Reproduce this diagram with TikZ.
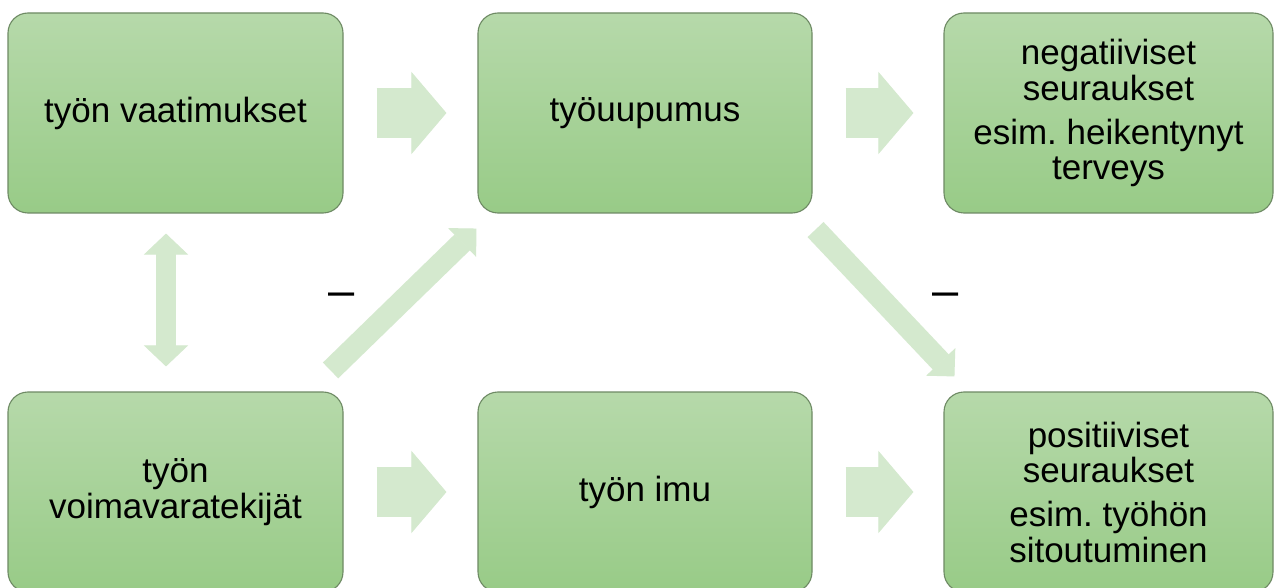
\documentclass[tikz,border=0pt]{standalone}
\usepackage{fontspec}
\setmainfont{Liberation Sans}
\usetikzlibrary{arrows.meta,calc}
\frenchspacing
\definecolor{boxtop}{RGB}{182,217,170}
\definecolor{boxbot}{RGB}{152,203,135}
\definecolor{boxline}{RGB}{110,138,100}
\definecolor{arrowfill}{RGB}{212,233,206}
\tikzset{
  stage/.style={draw=boxline, line width=1.1pt, rounded corners=20pt,
    top color=boxtop, bottom color=boxbot, minimum height=200pt,
    align=center, inner sep=0pt, text=black,
    font=\fontsize{35}{35.5}\selectfont},
  widearrow/.style={draw=arrowfill, line width=50pt, line cap=butt,
    -{Triangle[length=35pt,width=82pt,line width=1pt]}},
  slimarrow/.style={draw=arrowfill, line width=22pt, line cap=butt,
    -{Triangle[length=20pt,width=40pt,line width=1pt]}},
  twoway/.style={draw=arrowfill, line width=20pt, line cap=butt,
    {Triangle[length=21pt,width=44pt,line width=1pt]}-{Triangle[length=21pt,width=44pt,line width=1pt]}},
  sign/.style={font=\fontsize{47}{47}\selectfont, anchor=base, inner sep=0pt}
}
\begin{document}
\begin{tikzpicture}[x=1pt,y=-1pt]
\useasboundingbox (0,0) rectangle (1278,588);
\fill[white] (0,0) rectangle (1278,588);

% upper row
\node[stage, minimum width=335pt] (b1) at (175.5,113) {työn vaatimukset};
\node[stage, minimum width=334pt] (b2) at (645,113) {työuupumus};
\node[stage, minimum width=329pt] (b3) at (1108.5,113)
  {negatiiviset\\seuraukset\\[8.5pt]esim. heikentynyt\\terveys};

% lower row
\node[stage, minimum width=335pt] (b4) at (175.5,492) {työn\\voimavaratekijät};
\node[stage, minimum width=334pt] (b5) at (645,492) {työn imu};
\node[stage, minimum width=329pt] (b6) at (1108.5,492)
  {positiiviset\\seuraukset\\[8.5pt]esim. työhön\\sitoutuminen};

% horizontal flows
\draw[widearrow, shorten <=33pt, shorten >=31pt] (b1) -- (b2);
\draw[widearrow, shorten <=33pt, shorten >=30pt] (b2) -- (b3);
\draw[widearrow, shorten <=33pt, shorten >=31pt] (b4) -- (b5);
\draw[widearrow, shorten <=33pt, shorten >=30pt] (b5) -- (b6);

% two-way link between demands and resources
\draw[twoway] ($(b1.south)+(-9.5,20)$) -- ($(b4.north)+(-9.5,-25)$);

% diagonal flows
\draw[slimarrow] ($(b4.north east)+(-13,-21)$) -- ($(b2.south west)+(-1,15)$);
\draw[slimarrow] ($(b2.south east)+(3,16)$) -- ($(b6.north west)+(11,-15)$);

% signs
\node[sign] (m1) at (342,306) {–};
\node[sign] (m2) at (945.5,306) {–};
\end{tikzpicture}
\end{document}
